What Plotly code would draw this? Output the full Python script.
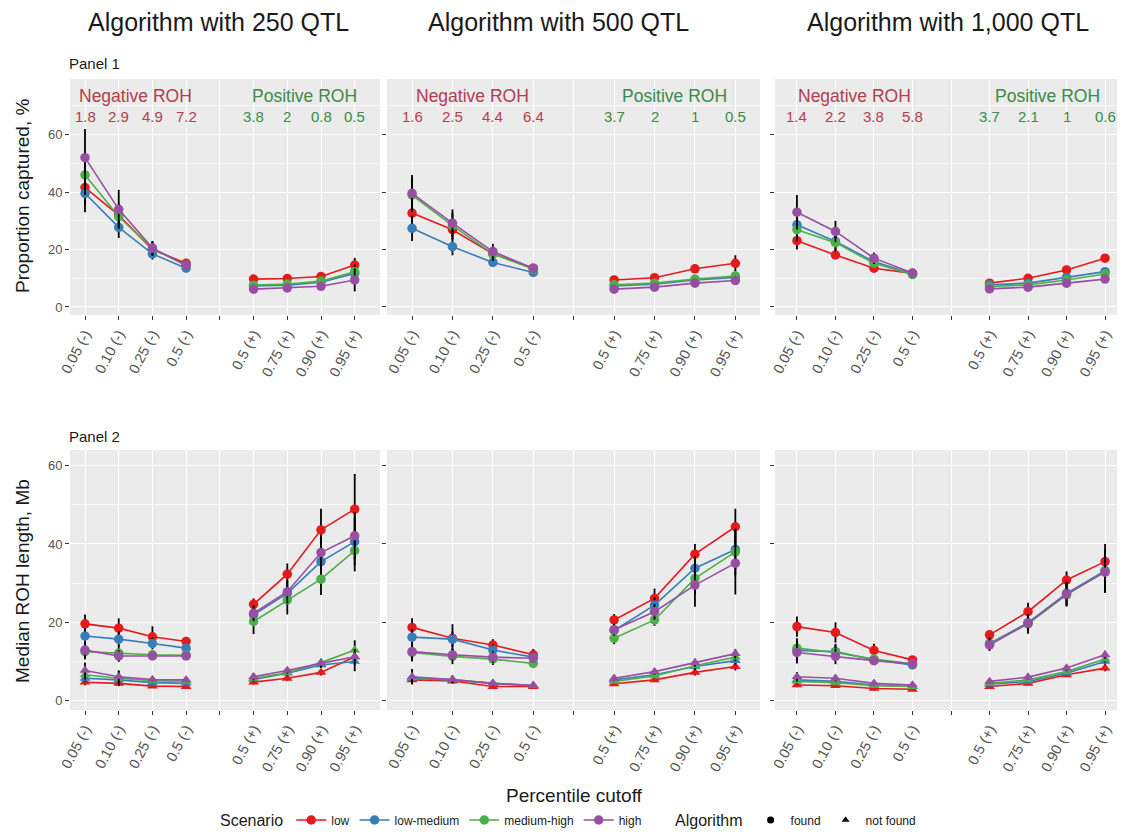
import plotly.graph_objects as go

# ---------------- data ----------------
cutoff_labels = ["0.05 (-)", "0.10 (-)", "0.25 (-)", "0.5 (-)", "",
                 "0.5 (+)", "0.75 (+)", "0.90 (+)", "0.95 (+)"]
cutoff_positions = [1, 2, 3, 4, 5, 6, 7, 8, 9]
scenarios = ["low", "low-medium", "medium-high", "high"]
scenario_colors = {"low": "#E41A1C", "low-medium": "#377EB8",
                   "medium-high": "#4DAF4A", "high": "#984EA3"}
column_titles = ["Algorithm with 250 QTL", "Algorithm with 500 QTL",
                 "Algorithm with 1,000 QTL"]
neg_roh_labels = [["1.8", "2.9", "4.9", "7.2"], ["1.6", "2.5", "4.4", "6.4"],
                  ["1.4", "2.2", "3.8", "5.8"]]
pos_roh_labels = [["3.8", "2", "0.8", "0.5"], ["3.7", "2", "1", "0.5"],
                  ["3.7", "2.1", "1", "0.6"]]

# Panel 1: proportion captured, % (8 cutoffs: 4 negative, 4 positive)
prop_250 = {"low": [41.6, 32.0, 20.0, 15.2, 9.7, 9.9, 10.6, 14.6],
            "low-medium": [39.6, 27.7, 18.5, 13.5, 7.3, 7.6, 8.6, 11.7],
            "medium-high": [46.0, 31.5, 20.3, 14.5, 7.6, 8.0, 9.0, 12.3],
            "high": [52.0, 34.0, 20.5, 14.5, 6.2, 6.6, 7.2, 9.4]}
prop_250_err = {"low": [6, 4, 2.5, 1.5, 1, 1, 1, 2.5],
                "low-medium": [6.6, 3.7, 2, 1.2, 1, 1, 1, 2],
                "medium-high": [7, 4, 2.5, 1.5, 1, 1, 1, 2.5],
                "high": [10, 6.8, 2.5, 1.5, 1, 1, 1.5, 4]}
prop_500 = {"low": [32.7, 26.9, 18.5, 13.5, 9.4, 10.2, 13.3, 15.2],
            "low-medium": [27.4, 21.0, 15.5, 12.0, 7.3, 7.9, 9.4, 10.3],
            "medium-high": [39.0, 28.3, 18.5, 13.2, 7.7, 8.3, 9.7, 10.8],
            "high": [39.6, 29.2, 19.3, 13.5, 6.2, 6.9, 8.3, 9.2]}
prop_500_err = {"low": [5, 3.5, 2, 1, 0.8, 0.8, 1.2, 2.8],
                "low-medium": [4.4, 3, 1.2, 0.8, 0.8, 0.8, 1, 1.5],
                "medium-high": [6, 4.5, 2.5, 1, 0.8, 0.8, 1, 1.5],
                "high": [6.4, 4.8, 2.7, 1, 0.8, 0.8, 1, 1.2]}
prop_1000 = {"low": [23.1, 18.1, 13.5, 11.7, 8.3, 10.0, 12.9, 17.0],
             "low-medium": [28.6, 22.8, 15.8, 11.5, 7.7, 8.3, 10.3, 12.3],
             "medium-high": [26.9, 22.4, 15.2, 11.3, 7.1, 7.7, 9.4, 11.5],
             "high": [33.0, 26.3, 17.0, 11.8, 6.3, 6.9, 8.3, 9.7]}
prop_1000_err = {"low": [3.1, 1.1, 0.8, 0.8, 0.6, 0.8, 1, 1.2],
                 "low-medium": [4, 3, 1.5, 0.8, 0.6, 0.8, 1, 1.2],
                 "medium-high": [4, 3, 1.5, 0.8, 0.6, 0.8, 1, 1.2],
                 "high": [6, 3.7, 2, 0.8, 0.6, 0.8, 1, 1.2]}

# Panel 2: median ROH length, Mb -- ROH found by the algorithm
found_250 = {"low": [19.6, 18.5, 16.3, 15.1, 24.6, 32.3, 43.6, 48.9],
             "low-medium": [16.5, 15.7, 14.6, 13.4, 21.9, 27.4, 35.5, 40.6],
             "medium-high": [12.5, 12.1, 11.7, 11.6, 20.2, 25.7, 31.0, 38.3],
             "high": [12.9, 11.4, 11.4, 11.4, 22.3, 27.8, 37.8, 42.1]}
found_250_err = {"low": [2.4, 2.5, 2.7, 1, 1.5, 2.7, 5.4, 9],
                 "low-medium": [2, 2, 1.5, 1, 2, 3, 4, 6],
                 "medium-high": [2, 2, 1, 1, 3.2, 3.7, 4, 5.3],
                 "high": [2, 1.5, 1, 1, 2, 3, 4, 6]}
found_500 = {"low": [18.7, 15.9, 14.2, 11.7, 20.6, 26.1, 37.4, 44.4],
             "low-medium": [16.2, 15.7, 12.9, 11.1, 17.9, 24.4, 33.8, 38.6],
             "medium-high": [12.3, 11.3, 10.6, 9.5, 15.9, 20.6, 31.2, 38.0],
             "high": [12.5, 11.7, 11.1, 10.8, 18.1, 22.7, 29.5, 35.1]}
found_500_err = {"low": [2.3, 3.6, 1.5, 1.5, 1.5, 2.5, 2.6, 4.6],
                 "low-medium": [2, 2, 1.5, 1, 1.5, 2, 3, 5],
                 "medium-high": [2.3, 2, 1.5, 1, 1.5, 1.5, 4, 6],
                 "high": [2, 1.5, 1.5, 1, 1.5, 2, 5.5, 8]}
found_1000 = {"low": [18.9, 17.4, 12.8, 10.4, 16.8, 22.7, 30.8, 35.5],
              "low-medium": [12.8, 12.5, 10.4, 9.1, 14.6, 19.9, 27.4, 33.2],
              "medium-high": [13.4, 12.3, 10.6, 9.4, 14.4, 19.6, 27.0, 33.0],
              "high": [12.3, 11.3, 10.2, 9.4, 14.2, 19.8, 27.2, 32.8]}
found_1000_err = {"low": [2.6, 2.6, 1.7, 1, 1.2, 2.3, 2.2, 4.5],
                  "low-medium": [2.5, 2, 1, 1, 1.5, 2, 3, 5],
                  "medium-high": [2.5, 2, 1, 1, 1.5, 2.5, 3, 5.5],
                  "high": [2.8, 2, 1, 1, 1.5, 2, 3, 5]}

# Panel 2: median ROH length, Mb -- ROH not found by the algorithm
notfound_250 = {"low": [4.7, 4.4, 3.7, 3.6, 4.7, 5.7, 7.2, 11.2],
                "low-medium": [5.7, 5.3, 4.6, 4.4, 5.4, 7.0, 9.1, 10.0],
                "medium-high": [6.6, 5.7, 5.1, 4.9, 5.7, 7.1, 9.7, 12.9],
                "high": [7.7, 6.1, 5.4, 5.3, 6.1, 7.7, 9.5, 11.2]}
notfound_250_err = {"low": [0.8, 0.6, 0.5, 0.5, 0.6, 0.6, 0.8, 2],
                    "low-medium": [0.8, 0.6, 0.5, 0.5, 0.6, 0.6, 0.8, 2.5],
                    "medium-high": [1.2, 2, 0.6, 0.5, 0.8, 0.8, 1, 2.5],
                    "high": [2, 1.5, 0.6, 0.5, 0.8, 0.8, 1, 2]}
notfound_500 = {"low": [5.3, 5.0, 3.6, 3.6, 4.3, 5.3, 7.2, 8.7],
                "low-medium": [5.7, 5.2, 4.4, 3.8, 5.3, 6.6, 8.7, 10.2],
                "medium-high": [5.9, 5.4, 4.4, 3.8, 4.9, 6.3, 8.9, 11.1],
                "high": [6.1, 5.4, 4.4, 3.9, 5.7, 7.4, 9.7, 12.0]}
notfound_500_err = {"low": [0.8, 0.6, 0.5, 0.5, 0.5, 0.6, 0.8, 1],
                    "low-medium": [0.8, 0.6, 0.5, 0.5, 0.5, 0.6, 0.8, 1],
                    "medium-high": [1, 0.8, 0.5, 0.5, 0.5, 0.6, 0.8, 1],
                    "high": [2, 1, 0.6, 0.5, 0.6, 0.8, 1, 1.2]}
notfound_1000 = {"low": [4.0, 3.8, 3.1, 2.9, 3.6, 4.4, 6.6, 8.3],
                 "low-medium": [5.3, 4.9, 4.0, 3.6, 4.2, 4.9, 7.0, 10.0],
                 "medium-high": [4.9, 4.6, 3.8, 3.6, 4.4, 5.3, 7.4, 10.6],
                 "high": [6.1, 5.7, 4.4, 4.0, 4.9, 6.0, 8.3, 11.7]}
notfound_1000_err = {"low": [0.6, 0.5, 0.5, 0.5, 0.5, 0.5, 0.6, 0.8],
                     "low-medium": [0.6, 0.5, 0.5, 0.5, 0.5, 0.5, 0.6, 0.8],
                     "medium-high": [0.8, 0.6, 0.5, 0.5, 0.5, 0.5, 0.6, 0.8],
                     "high": [1.2, 0.8, 0.5, 0.5, 0.5, 0.6, 0.8, 1]}

prop_cols = [(prop_250, prop_250_err), (prop_500, prop_500_err), (prop_1000, prop_1000_err)]
found_cols = [(found_250, found_250_err), (found_500, found_500_err), (found_1000, found_1000_err)]
notfound_cols = [(notfound_250, notfound_250_err), (notfound_500, notfound_500_err),
                 (notfound_1000, notfound_1000_err)]

# ---------------- geometry ----------------
# page body has an 8px margin; positions below are page pixels
OFF = 8
W, H = 1117, 831
col_px = [(70, 380), (387, 760), (775, 1122)]
col_xrange = [(0.555, 9.75), (0.38, 9.61), (0.43, 9.44)]
row_px = [(79, 315), (450, 710)]
row_yrange = [(-2.8, 79.4), (-2.4, 64)]


def px(x):
    return (x - OFF) / W


def py(y):
    return 1 - (y - OFF) / H


NEG_COLOR = "#B0404E"
POS_COLOR = "#3C8A48"
FONT = "Liberation Sans, Arial, sans-serif"
TXT = "#1A1A1A"
TICK_TXT = "#555555"


def with_gap(vals):
    return list(vals[:4]) + [None] + list(vals[4:])


fig = go.Figure()

for r in range(2):
    for c in range(3):
        idx = r * 3 + c + 1
        xa = "x" if idx == 1 else f"x{idx}"
        ya = "y" if idx == 1 else f"y{idx}"
        groups = []
        if r == 0:
            groups.append((prop_cols[c], "circle"))
        else:
            groups.append((notfound_cols[c], "triangle-up"))
            groups.append((found_cols[c], "circle"))
        for (vals, errs), sym in groups:
            for s in scenarios:
                col = scenario_colors[s]
                fig.add_trace(go.Scatter(
                    x=cutoff_positions, y=with_gap(vals[s]),
                    mode="lines+markers", connectgaps=False,
                    line=dict(color=col, width=1.6),
                    marker=dict(color=col, size=9.5, symbol=sym),
                    error_y=dict(type="data", array=with_gap(errs[s]),
                                 color="black", thickness=1.8, width=0),
                    name=s, legend="legend", legendgroup=s,
                    showlegend=(idx == 1),
                    xaxis=xa, yaxis=ya, hoverinfo="skip"))

for alg, sym in [("found", "circle"), ("not found", "triangle-up")]:
    fig.add_trace(go.Scatter(x=[None], y=[None], mode="markers",
                             marker=dict(color="black", size=7, symbol=sym),
                             name=alg, legend="legend2", showlegend=True,
                             xaxis="x", yaxis="y"))

layout = dict(
    width=W, height=H,
    margin=dict(l=0, r=0, t=0, b=0, autoexpand=False),
    paper_bgcolor="white",
    plot_bgcolor="#EBEBEB",
    font=dict(family=FONT, color=TXT),
    showlegend=True,
)

for r in range(2):
    for c in range(3):
        idx = r * 3 + c + 1
        xk = "xaxis" if idx == 1 else f"xaxis{idx}"
        yk = "yaxis" if idx == 1 else f"yaxis{idx}"
        x0, x1 = col_px[c]
        y0, y1 = row_px[r]
        layout[xk] = dict(
            domain=[px(x0), px(x1)], range=list(col_xrange[c]),
            anchor="y" if idx == 1 else f"y{idx}", automargin=False,
            tickmode="array", tickvals=cutoff_positions, ticktext=cutoff_labels,
            tickangle=-62, ticks="outside", ticklen=4, tickcolor="#333333",
            tickfont=dict(size=14.5, color=TICK_TXT, family=FONT),
            showgrid=True, gridcolor="white", gridwidth=1.3,
            zeroline=False, showline=False, fixedrange=True,
        )
        layout[yk] = dict(
            domain=[py(y1), py(y0)], range=list(row_yrange[r]),
            anchor="x" if idx == 1 else f"x{idx}", automargin=False,
            tickmode="array", tickvals=[0, 20, 40, 60],
            ticks="outside", ticklen=4, tickcolor="#333333",
            showticklabels=(c == 0),
            tickfont=dict(size=13, color=TICK_TXT, family=FONT),
            showgrid=True, gridcolor="white", gridwidth=1.3,
            minor=dict(tickvals=[10, 30, 50, 70], showgrid=True,
                       gridcolor="#F7F7F7", gridwidth=0.7, ticks=""),
            zeroline=False, showline=False, fixedrange=True,
        )

annotations = []
for c, t in enumerate(column_titles):
    cx = [218, 558, 948][c]
    annotations.append(dict(text=t, x=px(cx), y=py(22), xref="paper", yref="paper",
                            showarrow=False, font=dict(size=25, color=TXT, family=FONT),
                            xanchor="center", yanchor="middle"))
for lab, yy in [("Panel 1", 63), ("Panel 2", 436)]:
    annotations.append(dict(text=lab, x=px(67), y=py(yy), xref="paper", yref="paper",
                            showarrow=False, font=dict(size=15, color=TXT, family=FONT),
                            xanchor="left", yanchor="middle"))
for lab, yy in [("Proportion captured, %", 196), ("Median ROH length, Mb", 581)]:
    annotations.append(dict(text=lab, x=px(22), y=py(yy), xref="paper", yref="paper",
                            showarrow=False, textangle=-90,
                            font=dict(size=19, color=TXT, family=FONT),
                            xanchor="center", yanchor="middle"))
annotations.append(dict(text="Percentile cutoff", x=px(574), y=py(795),
                        xref="paper", yref="paper", showarrow=False,
                        font=dict(size=19, color=TXT, family=FONT),
                        xanchor="center", yanchor="middle"))
for c in range(3):
    idx = c + 1
    xr = "x" if idx == 1 else f"x{idx}"
    yr = "y" if idx == 1 else f"y{idx}"
    annotations.append(dict(text="Negative ROH", x=2.5, y=73.5, xref=xr, yref=yr,
                            showarrow=False, font=dict(size=17.5, color=NEG_COLOR, family=FONT)))
    annotations.append(dict(text="Positive ROH", x=7.5, y=73.5, xref=xr, yref=yr,
                            showarrow=False, font=dict(size=17.5, color=POS_COLOR, family=FONT)))
    for i, lab in enumerate(neg_roh_labels[c]):
        annotations.append(dict(text=lab, x=cutoff_positions[i], y=66.3, xref=xr, yref=yr,
                                showarrow=False, font=dict(size=15, color=NEG_COLOR, family=FONT)))
    for i, lab in enumerate(pos_roh_labels[c]):
        annotations.append(dict(text=lab, x=cutoff_positions[5 + i], y=66.3, xref=xr, yref=yr,
                                showarrow=False, font=dict(size=15, color=POS_COLOR, family=FONT)))

layout["annotations"] = annotations

layout["legend"] = dict(
    orientation="h", x=px(218), y=py(821), xanchor="left", yanchor="middle",
    title=dict(text="Scenario", side="left", font=dict(size=16, color=TXT)),
    font=dict(size=12, color=TXT), bgcolor="rgba(0,0,0,0)",
    itemwidth=30, tracegroupgap=0,
)
layout["legend2"] = dict(
    orientation="h", x=px(673), y=py(821), xanchor="left", yanchor="middle",
    title=dict(text="Algorithm", side="left", font=dict(size=16, color=TXT)),
    font=dict(size=12, color=TXT), bgcolor="rgba(0,0,0,0)",
    itemwidth=30,
)

fig.update_layout(**layout)
fig.write_html("out.html")
